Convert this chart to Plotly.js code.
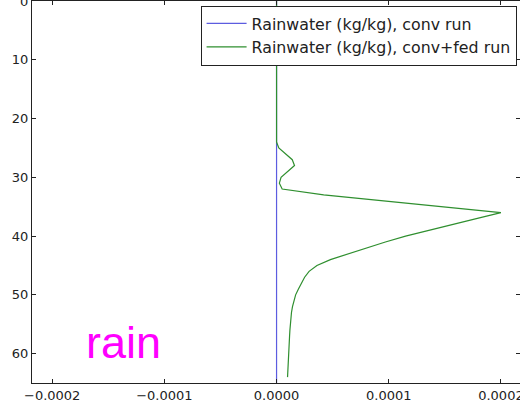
<!DOCTYPE html>
<html>
<head>
<meta charset="utf-8">
<script src="https://cdn.plot.ly/plotly-3.0.1.min.js"></script>
<style>html,body{margin:0;padding:0;background:#fff;}</style>
</head>
<body>
<div id="chart" style="width:520px;height:406px;"></div>
<script>
// Model levels (y axis, reversed)
var levels = [0,1,2,3,4,5,6,7,8,9,10,11,12,13,14,15,16,17,18,19,20,21,22,23,24,25,26,27,28,29,30,31,32,33,34,35,36,37,38,39,40,41,42,43,44,45,46,47,48,49,50,51,52,53,54,55,56,57,58,59,60,61,62,63,64,65];
// Rainwater (kg/kg), conv run
var rainConv = [0,0,0,0,0,0,0,0,0,0,0,0,0,0,0,0,0,0,0,0,0,0,0,0,0,0,0,0,0,0,0,0,0,0,0,0,0,0,0,0,0,0,0,0,0,0,0,0,0,0,0,0,0,0,0,0,0,0,0,0,0,0,0,0,0,0];
// Rainwater (kg/kg), conv+fed run
var rainFed = [0,0,0,0,0,0,0,0,0,0,0,0,0,0,0,0,0,0,0,0,0,0,0,0,0,
  0.000002,0.000008,0.000014,0.000016,0.000010,0.000004,0.0000025,0.000005,
  0.000042,0.000097,0.000150,0.000200,0.000179,0.000157,0.000136,0.000115,
  0.000097,0.000080,0.000063,0.000048,0.000036,0.000029,0.000025,0.000022,
  0.0000195,0.000017,0.0000155,0.0000142,0.0000133,0.0000127,0.0000122,0.0000119,
  0.0000116,0.0000114,0.0000112,0.000011,0.0000107,0.0000104,0.00001,0.0000098, null];
var xTicks = [-0.0002,-0.0001,0,0.0001,0.0002];
var yTicks = [0,10,20,30,40,50,60];
var seriesNames = ['Rainwater (kg/kg), conv run','Rainwater (kg/kg), conv+fed run'];

var traces = [
  {x: rainConv, y: levels, type:'scatter', mode:'lines', name: seriesNames[0],
   line:{color:'#5c5ce0', width:1.2}, legendgroup:'a'},
  {x: rainFed, y: levels, type:'scatter', mode:'lines', name: seriesNames[1],
   line:{color:'#2f8f2f', width:1.2}, legendgroup:'b', connectgaps:false}
];

var axisFont = {family:'DejaVu Sans', size:13, color:'#222'};
var layout = {
  width:520, height:406,
  margin:{l:32, r:0, t:1, b:23},
  paper_bgcolor:'#fff', plot_bgcolor:'#fff',
  showlegend:true,
  xaxis:{range:[-0.000218,0.000217], tickvals:xTicks, tickformat:'.4f',
    ticks:'inside', ticklen:4, tickcolor:'#222', showline:true, linecolor:'#222', linewidth:1.2,
    mirror:'ticks', showgrid:false, zeroline:false, tickfont:axisFont, ticklabeloverflow:'allow'},
  yaxis:{range:[65,0], tickvals:yTicks,
    ticks:'inside', ticklen:4, tickcolor:'#222', showline:true, linecolor:'#222', linewidth:1.2,
    mirror:'ticks', showgrid:false, zeroline:false, tickfont:axisFont, ticklabeloverflow:'allow'},
  legend:{x:0.993, y:0.988, xanchor:'right', yanchor:'top',
    bgcolor:'#fff', bordercolor:'#222', borderwidth:1,
    font:{family:'DejaVu Sans', size:15.8, color:'#222'},
    traceorder:'grouped', tracegroupgap:0, itemwidth:40},
  annotations:[{text:'rain', xref:'paper', yref:'paper', x:0.1066, y:0.105,
    xanchor:'left', yanchor:'middle', showarrow:false,
    font:{family:'Liberation Sans', size:45, color:'#ff00ff'}}]
};
Plotly.newPlot('chart', traces, layout, {displayModeBar:false, staticPlot:true});
</script>
</body>
</html>
